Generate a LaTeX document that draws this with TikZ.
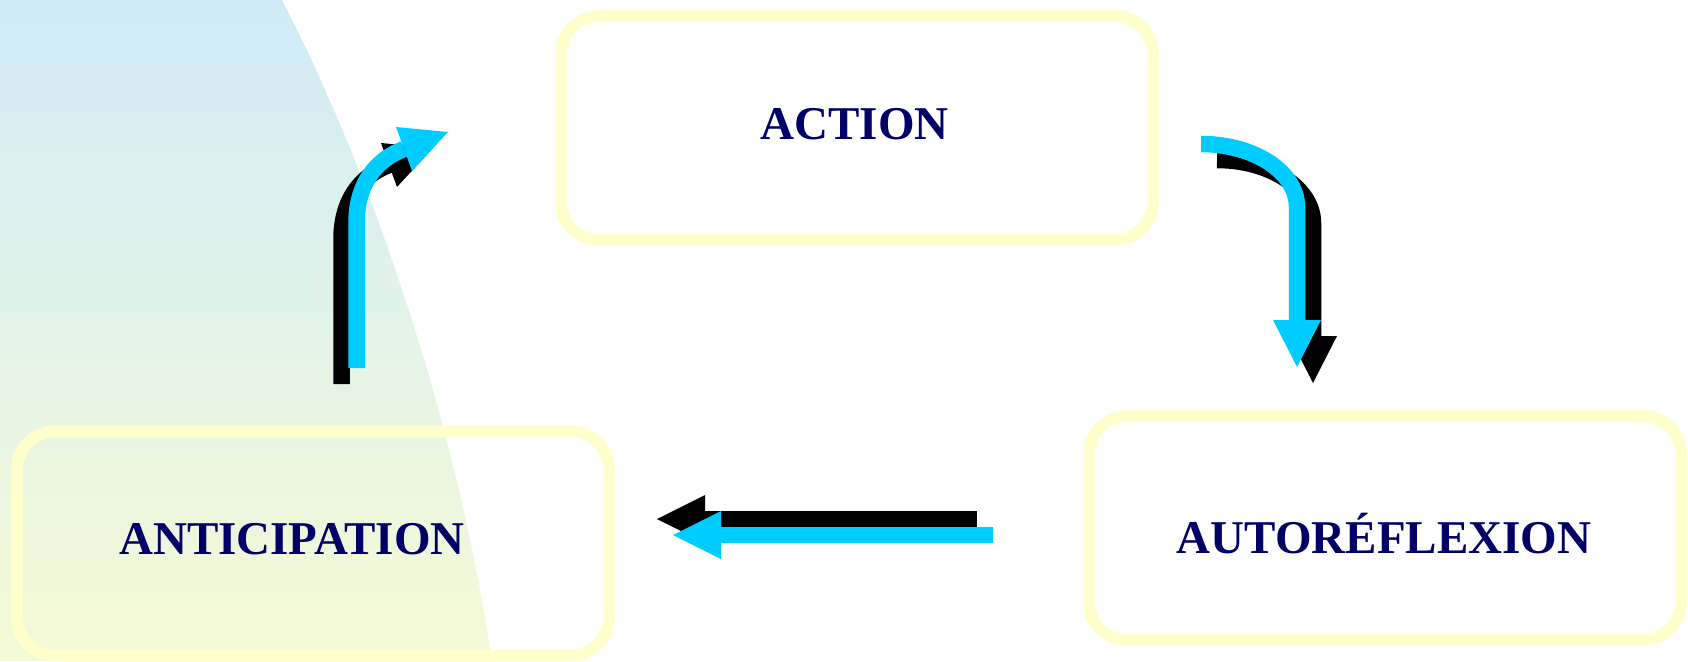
\documentclass[tikz,border=0pt]{standalone}
\usepackage{fontspec}
\setmainfont{Liberation Serif}
\definecolor{cyanA}{HTML}{00CCFF}
\definecolor{boxY}{HTML}{FFFFCC}
\definecolor{navyT}{HTML}{000066}
\definecolor{bgTop}{HTML}{D0ECF8}
\definecolor{bgBot}{HTML}{F5FAD6}
\begin{document}
\begin{tikzpicture}[x=1pt,y=-1pt,
  boxstyle/.style={draw=boxY, line width=12pt, rounded corners=38pt, minimum width=592pt, minimum height=224pt, inner sep=0pt, outer sep=0pt},
  lbl/.style={text=navyT, font=\fontsize{47}{56}\selectfont\bfseries, anchor=base, inner sep=0pt},
  shaft/.style={line width=16.5pt, line cap=butt}]
\useasboundingbox (0,0) rectangle (1688,661);
% background
\shade[top color=bgTop, bottom color=bgBot] (0,0) -- (282,0) .. controls (350,130) and (450,380) .. (492,661) -- (0,661) -- cycle;
% boxes
\node[boxstyle] (action) at (857,128) {};
\node[boxstyle] (auto) at (1385,528) {};
\node[boxstyle] (antic) at (313,543.5) {};
% labels
\node[lbl] (tAction) at (854.5,139) {ACTION};
\node[lbl] (tAuto) at (1384,553) {AUTORÉFLEXION};
\node[lbl] (tAntic) at (292,554) {ANTICIPATION};
% up arrow (anticipation -> action): shadow then cyan
\coordinate (ub1) at (341.5,384);
\coordinate (ub2) at (341.5,239);
\coordinate (ub3) at (389,165);
\draw[black, shaft] (ub1) -- (ub2) .. controls (341.5,201) and (360,176) .. (ub3);
\fill[black] (381,143) -- (433,148) -- (397,187) -- cycle;
\coordinate (u1) at (356.5,368);
\coordinate (u2) at (356.5,223);
\coordinate (u3) at (404,149);
\draw[cyanA, shaft] (u1) -- (u2) .. controls (356.5,185) and (375,160) .. (u3);
\fill[cyanA] (396,127) -- (448,132) -- (412,171) -- cycle;
% down arrow (action -> autoreflexion)
\coordinate (db1) at (1217,160);
\coordinate (db2) at (1313,223);
\coordinate (db3) at (1313,336);
\draw[black, shaft] (db1) .. controls (1270,160) and (1313,188) .. (db2) -- (db3);
\fill[black] (1289,336) -- (1337,336) -- (1313,383) -- cycle;
\coordinate (d1) at (1201,144);
\coordinate (d2) at (1297,207);
\coordinate (d3) at (1297,320);
\draw[cyanA, shaft] (d1) .. controls (1254,144) and (1297,172) .. (d2) -- (d3);
\fill[cyanA] (1273,320) -- (1321,320) -- (1297,367) -- cycle;
% left arrow (autoreflexion -> anticipation)
\coordinate (lb1) at (977,519);
\coordinate (lb2) at (705,519);
\draw[black, shaft] (lb1) -- (lb2);
\fill[black] (705,495) -- (705,543) -- (657,519) -- cycle;
\coordinate (l1) at (993,535);
\coordinate (l2) at (721,535);
\draw[cyanA, shaft] (l1) -- (l2);
\fill[cyanA] (721,511) -- (721,559) -- (673,535) -- cycle;
\end{tikzpicture}
\end{document}
